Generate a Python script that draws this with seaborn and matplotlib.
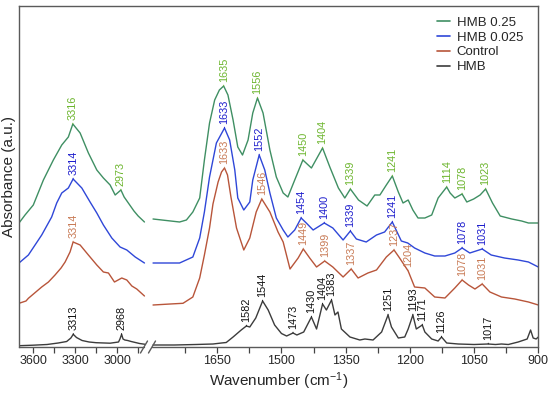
"""
FTIR spectra of HMB, control and HMB-treated samples with a broken wavenumber axis.
"""
import matplotlib
matplotlib.use("Agg")
import matplotlib.pyplot as plt
import seaborn as sns
import numpy as np
import pandas as pd

# ---- data (wavenumber in cm-1, absorbance in a.u.) ----
g_wn = [3700, 3657, 3598, 3526, 3455, 3395, 3348, 3316, 3264, 3205, 3145, 3098, 3050, 3014,
        2973, 2950, 2920, 2880, 2850, 2805,
        1800, 1738, 1722, 1707, 1691, 1680, 1668, 1656, 1645, 1635, 1625, 1613, 1602, 1591,
        1578, 1567, 1556, 1543, 1527, 1512, 1496, 1485, 1469, 1450, 1430, 1404, 1387, 1367,
        1352, 1339, 1320, 1300, 1282, 1270, 1255, 1241, 1227, 1216, 1204, 1193, 1181, 1165,
        1149, 1134, 1114, 1106, 1095, 1078, 1067, 1051, 1036, 1023, 1007, 989, 962, 939, 923, 900]
g_ab = [1.24, 1.32, 1.42, 1.67, 1.87, 2.02, 2.10, 2.23, 2.14, 1.94, 1.77, 1.69, 1.62, 1.52,
        1.57, 1.50, 1.44, 1.36, 1.31, 1.25,
        1.28, 1.25, 1.27, 1.35, 1.49, 1.87, 2.24, 2.47, 2.57, 2.61, 2.52, 2.27, 2.00, 1.92,
        2.07, 2.34, 2.49, 2.34, 1.97, 1.70, 1.54, 1.50, 1.67, 1.87, 1.79, 1.99, 1.80, 1.59,
        1.49, 1.58, 1.47, 1.41, 1.52, 1.52, 1.62, 1.71, 1.55, 1.44, 1.47, 1.37, 1.29, 1.29,
        1.32, 1.49, 1.60, 1.54, 1.49, 1.53, 1.45, 1.48, 1.52, 1.58, 1.44, 1.31, 1.28, 1.26, 1.24, 1.24]

b_wn = [3700, 3633, 3538, 3467, 3431, 3395, 3348, 3314, 3252, 3193, 3145, 3098, 3038, 2979,
        2931, 2871, 2805,
        1800, 1738, 1707, 1691, 1680, 1668, 1652, 1633, 1621, 1609, 1602, 1588, 1574, 1567,
        1552, 1539, 1527, 1512, 1496, 1485, 1469, 1454, 1442, 1426, 1400, 1380, 1356, 1339,
        1325, 1302, 1278, 1259, 1241, 1220, 1205, 1189, 1165, 1142, 1118, 1095, 1078, 1060,
        1031, 1010, 979, 947, 923, 900]
b_ab = [0.84, 0.92, 1.12, 1.30, 1.44, 1.54, 1.59, 1.68, 1.59, 1.45, 1.34, 1.22, 1.09, 1.00,
        0.97, 0.90, 0.84,
        0.84, 0.84, 0.90, 1.09, 1.35, 1.70, 2.04, 2.19, 2.07, 1.77, 1.49, 1.37, 1.45, 1.67,
        1.92, 1.77, 1.54, 1.29, 1.17, 1.10, 1.17, 1.29, 1.24, 1.17, 1.24, 1.19, 1.07, 1.16,
        1.08, 1.05, 1.12, 1.15, 1.25, 1.06, 1.04, 0.99, 0.94, 0.91, 0.91, 0.94, 0.99, 0.94,
        0.98, 0.92, 0.89, 0.87, 0.85, 0.80]

c_wn = [3700, 3650, 3633, 3538, 3490, 3443, 3400, 3371, 3336, 3314, 3264, 3205, 3145, 3098,
        3062, 3019, 2967, 2931, 2895, 2860, 2805,
        1800, 1760, 1730, 1707, 1691, 1680, 1668, 1660, 1648, 1640, 1633, 1626, 1618, 1605,
        1588, 1574, 1559, 1546, 1527, 1508, 1496, 1480, 1461, 1449, 1434, 1418, 1399, 1380,
        1356, 1337, 1321, 1298, 1278, 1255, 1237, 1224, 1204, 1189, 1165, 1142, 1118, 1095,
        1078, 1063, 1048, 1031, 1013, 986, 955, 923, 900]
c_ab = [0.437, 0.46, 0.487, 0.60, 0.65, 0.72, 0.79, 0.85, 0.95, 1.05, 1.02, 0.92, 0.82, 0.75,
        0.74, 0.65, 0.69, 0.67, 0.61, 0.58, 0.51,
        0.42, 0.43, 0.437, 0.50, 0.69, 0.92, 1.19, 1.43, 1.65, 1.75, 1.79, 1.72, 1.50, 1.19,
        0.97, 1.09, 1.35, 1.48, 1.35, 1.15, 1.05, 0.78, 0.89, 0.98, 0.89, 0.80, 0.86, 0.80,
        0.70, 0.78, 0.69, 0.74, 0.77, 0.90, 0.97, 0.89, 0.76, 0.60, 0.59, 0.50, 0.49, 0.59,
        0.67, 0.62, 0.58, 0.63, 0.55, 0.50, 0.48, 0.45, 0.42]

h_wn = [3700, 3600, 3500, 3420, 3360, 3330, 3313, 3290, 3250, 3200, 3150, 3050, 2990, 2980,
        2968, 2958, 2945, 2925, 2900, 2870, 2840, 2800,
        1800, 1750, 1700, 1660, 1640, 1629, 1613, 1594, 1582, 1574, 1560, 1544, 1531, 1516,
        1500, 1488, 1473, 1464, 1448, 1430, 1418, 1404, 1395, 1383, 1375, 1368, 1360, 1340,
        1317, 1305, 1286, 1266, 1251, 1243, 1227, 1212, 1204, 1193, 1185, 1171, 1165, 1149,
        1134, 1126, 1114, 1087, 1050, 1017, 1000, 986, 970, 947, 926, 918, 912, 905, 900]
h_ab = [0.013, 0.018, 0.025, 0.04, 0.055, 0.09, 0.127, 0.095, 0.065, 0.05, 0.043, 0.038, 0.05, 0.08,
        0.127, 0.08, 0.07, 0.065, 0.055, 0.045, 0.035, 0.027,
        0.02, 0.02, 0.025, 0.03, 0.04, 0.045, 0.10, 0.17, 0.21, 0.20, 0.29, 0.46, 0.37, 0.22,
        0.135, 0.11, 0.14, 0.12, 0.15, 0.30, 0.18, 0.43, 0.37, 0.47, 0.32, 0.35, 0.18, 0.10,
        0.07, 0.08, 0.07, 0.15, 0.32, 0.20, 0.09, 0.10, 0.18, 0.32, 0.18, 0.22, 0.15, 0.08,
        0.06, 0.10, 0.04, 0.03, 0.025, 0.03, 0.025, 0.03, 0.025, 0.05, 0.08, 0.17, 0.09, 0.08, 0.10]

samples = ["HMB 0.25", "HMB 0.025", "Control", "HMB"]
peaks = {
    "HMB 0.25": [3316, 2973, 1635, 1556, 1450, 1404, 1339, 1241, 1114, 1078, 1023],
    "HMB 0.025": [3314, 1633, 1552, 1454, 1400, 1339, 1241, 1078, 1031],
    "Control": [3314, 1633, 1546, 1449, 1399, 1337, 1237, 1204, 1078, 1031],
    "HMB": [3313, 2968, 1582, 1544, 1473, 1430, 1404, 1383, 1251, 1193, 1171, 1126, 1017],
}

line_colors = {"HMB 0.25": "#3f8f63", "HMB 0.025": "#2f47d8", "Control": "#b8553a", "HMB": "#3c3c3c"}
label_colors = {"HMB 0.25": "#6cb52d", "HMB 0.025": "#1c1ccc", "Control": "#c87a55", "HMB": "#111111"}

# ---- long table for seaborn ----
frames = []
for name, wn, ab in zip(samples, [g_wn, b_wn, c_wn, h_wn], [g_ab, b_ab, c_ab, h_ab]):
    wn = np.array(wn, dtype=float)
    frames.append(pd.DataFrame({"wn": wn, "A": ab, "sample": name,
                                "seg": np.where(wn > 2000, "hi", "lo")}))
df = pd.concat(frames, ignore_index=True)


# broken axis: 900-1800 and 2800-3700 on different scales, with a tiny gap between
def fwd(x):
    x = np.asarray(x, dtype=float)
    return np.where(x <= 1800, (x - 900) * 0.4275,
                    np.where(x < 2800, 384.8 + (x - 1800) * 0.0078,
                             392.6 + (x - 2800) * 0.14))


def inv(u):
    u = np.asarray(u, dtype=float)
    return np.where(u <= 384.8, 900 + u / 0.4275,
                    np.where(u < 392.6, 1800 + (u - 384.8) / 0.0078,
                             2800 + (u - 392.6) / 0.14))


sns.set_theme(style="ticks")
plt.rcParams["font.family"] = ["Liberation Sans", "DejaVu Sans"]
plt.rcParams["mathtext.default"] = "regular"

fig = plt.figure(figsize=(5.5, 3.93), dpi=100)
ax = fig.add_axes([19 / 550, 46 / 393, 519.3 / 550, 341.5 / 393])

sns.lineplot(data=df, x="wn", y="A", hue="sample", units="seg", estimator=None,
             hue_order=samples, palette=line_colors, lw=1.0, ax=ax)

ax.set_xscale("function", functions=(fwd, inv))
ax.set_xlim(3700, 900)
ax.set_ylim(0, 3.415)

# peak labels
for name in samples:
    sub = df[df["sample"] == name].sort_values("wn")
    for p in peaks[name]:
        y = np.interp(p, sub["wn"], sub["A"])
        c = label_colors[name]
        ax.annotate(str(p), xy=(p, y), xytext=(0, 3), textcoords="offset points",
                    rotation=90, ha="center", va="bottom", fontsize=7.8, color=c,
                    arrowprops=dict(arrowstyle="-", color=c, lw=0.6, shrinkA=0, shrinkB=0))

# axes formatting
major = [3600, 3300, 3000, 1650, 1500, 1350, 1200, 1050, 900]
minor = [3450, 3150, 2850, 1725, 1575, 1425, 1275, 1125, 975]
ax.set_xticks(major)
ax.set_xticklabels([str(t) for t in major])
ax.set_xticks(minor, minor=True)
ax.set_yticks([])
ax.tick_params(axis="x", which="both", direction="out", length=4, width=0.9,
               color="#444444", labelsize=9, pad=2)

spine_c = "#5a5a5a"
for s in ["top", "left", "right"]:
    ax.spines[s].set_color(spine_c)
    ax.spines[s].set_linewidth(1.0)
ax.spines["bottom"].set_visible(False)

# bottom axis line with // break marks
f1 = (144 - 19) / 519.3
f2 = (152 - 19) / 519.3
dx, dy = 3.5 / 519.3, 6 / 341.5
ax.plot([0, f1], [0, 0], transform=ax.transAxes, clip_on=False, color=spine_c, lw=1.0)
ax.plot([f2, 1], [0, 0], transform=ax.transAxes, clip_on=False, color=spine_c, lw=1.0)
for f in (f1, f2):
    ax.plot([f - dx, f + dx], [-dy, dy], transform=ax.transAxes, clip_on=False,
            color=spine_c, lw=1.0)

ax.set_xlabel("Wavenumber (cm$^{-1}$)", fontsize=11, labelpad=2)
ax.set_ylabel("Absorbance (a.u.)", fontsize=11, labelpad=2)

handles, labels = ax.get_legend_handles_labels()
leg = ax.legend(handles, labels, loc="upper right", bbox_to_anchor=(0.971, 0.968),
                frameon=False, fontsize=9.5, handlelength=1.0, handletextpad=0.5,
                labelspacing=0.2, borderaxespad=0, borderpad=0)
for h in leg.get_lines():
    h.set_linewidth(1.2)

plt.savefig("out.png", dpi=100)
